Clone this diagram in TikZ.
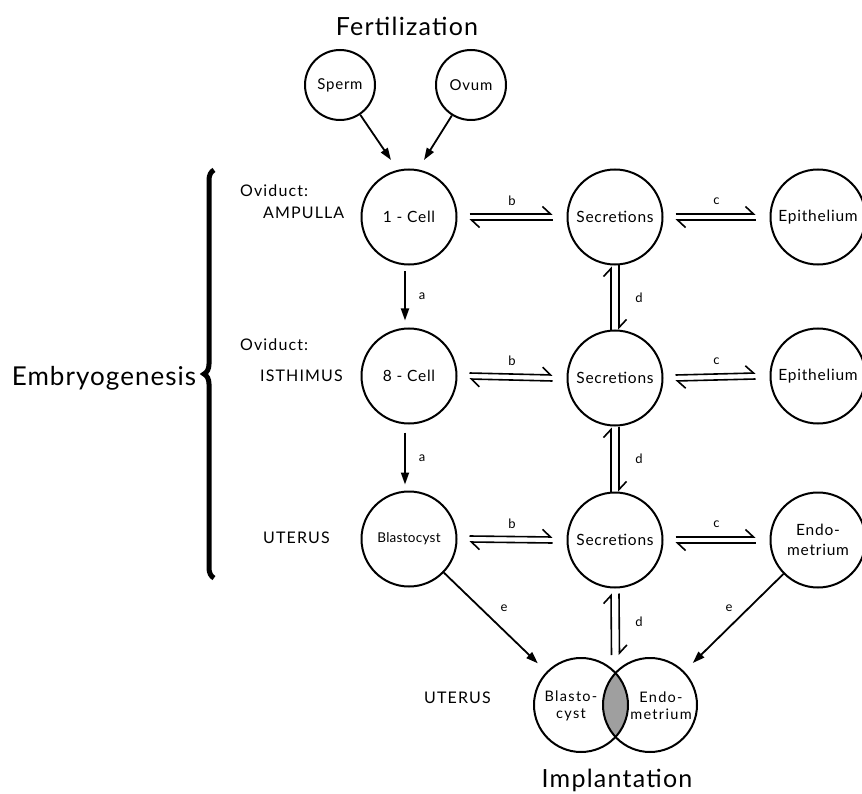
\documentclass[tikz,border=0pt]{standalone}
\usepackage{fontspec}
\setmainfont{Lato}
\usetikzlibrary{arrows.meta,decorations.pathreplacing,calc}
\newcommand{\fsz}[3]{\fontsize{#1}{#2}\selectfont\addfontfeature{LetterSpace=#3}}
\begin{document}
\begin{tikzpicture}[x=1pt,y=-1pt,
  big/.style={circle,draw,line width=2pt,minimum size=95pt,inner sep=0pt,font=\fsz{15.5}{17}{5}},
  small/.style={circle,draw,line width=2pt,minimum size=70pt,inner sep=0pt,font=\fsz{15}{16}{5}},
  plain/.style={circle,minimum size=94pt,inner sep=0pt,font=\fsz{14.5}{17}{9},align=center},
  side/.style={font=\fsz{16}{17}{7},inner sep=0pt},
  ttl/.style={font=\fsz{25}{27}{5},inner sep=0pt},
  let/.style={font=\fsz{13}{14}{0},inner sep=0pt},
  arr/.style={-{Triangle[length=12pt,width=8pt]},line width=1.8pt},
  hp/.style={-{Straight Barb[harpoon,length=8pt,width=15pt,line width=1.6pt]},line width=1.6pt},
]
\useasboundingbox (0,0) rectangle (862,794);

% titles
\node[ttl] (fert) at (407,26) {Fertilization};
\node[ttl] (impl) at (617,780) {Implantation};
\node[ttl,font=\fsz{26}{28}{4}] (emb) at (104,378) {Embryogenesis};

% side labels
\node[side,anchor=west] (ov1) at (240,191) {Oviduct:};
\node[side,anchor=west] (amp) at (263,213) {AMPULLA};
\node[side,anchor=west] (ov2) at (240,345) {Oviduct:};
\node[side,anchor=west] (ist) at (260,376) {ISTHIMUS};
\node[side,anchor=west] (ut1) at (263,538) {UTERUS};
\node[side,anchor=west] (ut2) at (424,698) {UTERUS};

% brace
\draw[decorate,decoration={brace,amplitude=10pt,aspect=0.5},line width=5pt] (214,578) -- (214,170);

% circles
\node[small] (sperm) at (340,85) {Sperm};
\node[small] (ovum) at (471,85) {Ovum};
\node[big] (c1) at (409,217) {1 - Cell};
\node[big] (s1) at (615,217) {Secretions};
\node[big] (e1) at (818,217) {Epithelium};
\node[big] (c8) at (409,376) {8 - Cell};
\node[big] (s2) at (615,378) {Secretions};
\node[big] (e2) at (818,376) {Epithelium};
\node[big,font=\fsz{13.5}{15}{2}] (bl) at (409,539) {Blastocyst};
\node[big] (s3) at (615,540) {Secretions};
\node[big,align=center,font=\fsz{15.5}{20}{5}] (en) at (818,540) {Endo-\\metrium};

% implantation
\begin{scope}
  \clip (581,705) circle (47pt);
  \fill[gray!75] (650,705) circle (47pt);
\end{scope}
\node[big,minimum size=94pt] (ib) at (581,705) {};
\node[big,minimum size=94pt] (ie) at (650,705) {};
\node[plain] at ($(ib.center)+(-10,1)$) {Blasto-\\cyst};
\node[plain] at ($(ie.center)+(11,1)$) {Endo-\\metrium};
\coordinate (top) at (615.5,655);

% fertilization arrows
\coordinate (t1) at (391,160);
\coordinate (t2) at (424,160);
\draw[arr] (sperm) -- (t1);
\draw[arr] (ovum) -- (t2);

% a arrows
\draw[arr] ($(c1.south)+(-4,6)$) -- ($(c8.north)+(-4,-7)$) node[let,midway,right=13pt] {a};
\draw[arr] ($(c8.south)+(-4,8)$) -- ($(bl.north)+(-4,-6)$) node[let,midway,right=13pt] {a};

% b and c harpoons
\foreach \l/\r/\t in {c1/s1/b,c8/s2/b,bl/s3/b,s1/e1/c,s2/e2/c,s3/en/c}{
  \draw[hp] ($(\l.east)+(12,-3)$) -- ($(\r.west)+(-14,-3)$);
  \draw[hp] ($(\r.west)+(-14,3)$) -- ($(\l.east)+(12,3)$);
  \node[let] at ($(\l.east)!0.5!(\r.west)+(0,-16)$) {\t};
}

% d harpoons
\foreach \u/\w in {s1/s2,s2/s3}{
  \draw[hp] ($(\w.north)+(-4,0)$) -- ($(\u.south)+(-4,1)$);
  \draw[hp] ($(\u.south)+(4,0)$) -- ($(\w.north)+(4,0)$);
  \node[let] at ($(\u.south)!0.5!(\w.north)+(24,0)$) {d};
}
\draw[hp] ($(top)+(-4,0)$) -- ($(s3.south)+(-4,5)$);
\draw[hp] ($(s3.south)+(4,5)$) -- ($(top)+(4,0)$);
\node[let] (dl) at (639,622) {d};

% e arrows
\draw[arr,shorten >=12pt] (bl) -- (ib);
\draw[arr,shorten >=12pt] (en) -- (ie);
\node[let] (el) at (504,608) {e};
\node[let] (er) at (729,608) {e};
\end{tikzpicture}
\end{document}
